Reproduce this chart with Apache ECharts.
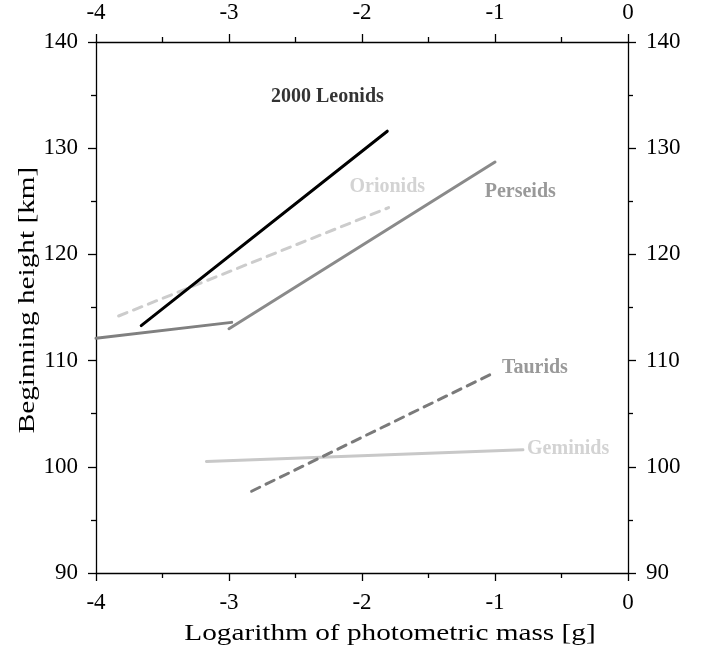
<!DOCTYPE html>
<html lang="en">
<head>
    <meta charset="UTF-8">
    <title>Beginning height vs photometric mass</title>
    <script src="https://cdn.jsdelivr.net/npm/echarts@6/dist/echarts.min.js"></script>
    <style>
        body { margin: 0; background: #fff; }
        #main { width: 706px; height: 648px; }
    </style>
</head>
<body>
<div id="main"></div>
<script>
    // end points: [log mass, height km]
    var leonids = [[-3.66, 113.3], [-1.81, 131.6]];
    var orionids = [[-3.83, 114.2], [-1.80, 124.4]];
    var perseids = [[-3.0, 113.0], [-1.0, 128.7]];
    var perseidsLow = [[-4.0, 112.1], [-2.98, 113.6]];
    var taurids = [[-2.83, 97.7], [-1.0, 108.9]];
    var geminids = [[-3.17, 100.5], [-0.79, 101.6]];

    var labelNames = ['2000 Leonids', 'Orionids', 'Perseids', 'Taurids', 'Geminids'];
    var labelAt = [[-2.26, 134.8], [-1.81, 126.4], [-0.81, 125.9], [-0.70, 109.3], [-0.45, 101.7]];
    var labelColors = ['#000000', '#c8c8c8', '#808080', '#808080', '#c8c8c8'];

    var xTitle = 'Logarithm of photometric mass [g]';
    var yTitle = 'Beginning height [km]';

    var serif = 'Liberation Serif';

    function seg(data, color, dashed) {
        return {
            type: 'line',
            data: data,
            symbol: 'none',
            silent: true,
            lineStyle: {color: color, width: 3, type: dashed ? [9, 7] : 'solid', cap: 'round'}
        };
    }

    var tickStyle = {color: '#000', width: 1.3};

    var xAxisBase = {
        type: 'value',
        min: -4,
        max: 0,
        interval: 1,
        axisLine: {onZero: false, lineStyle: {color: '#000', width: 1.3}},
        axisTick: {inside: false, length: 8, lineStyle: tickStyle},
        minorTick: {show: true, splitNumber: 2, length: 5, lineStyle: tickStyle},
        splitLine: {show: false},
        axisLabel: {color: '#000', fontFamily: serif, fontSize: 23, margin: 18}
    };

    var yAxisBase = {
        type: 'value',
        min: 90,
        max: 140,
        interval: 10,
        axisLine: {onZero: false, lineStyle: {color: '#000', width: 1.3}},
        axisTick: {inside: false, length: 8, lineStyle: tickStyle},
        minorTick: {show: true, splitNumber: 2, length: 5, lineStyle: tickStyle},
        splitLine: {show: false},
        axisLabel: {color: '#000', fontFamily: serif, fontSize: 23, margin: 18}
    };

    var labelData = [];
    for (var i = 0; i < labelNames.length; i++) {
        labelData.push({
            value: labelAt[i],
            label: {
                show: true,
                formatter: labelNames[i],
                position: 'inside',
                color: labelColors[i],
                fontFamily: serif,
                fontWeight: 'bold',
                fontSize: 20
            }
        });
    }

    var myChart = echarts.init(document.getElementById('main'));
    var option = {
        animation: false,
        backgroundColor: '#fff',
        grid: {left: 96, right: 78, top: 42, bottom: 75},
        xAxis: [
            Object.assign({}, xAxisBase, {position: 'bottom'}),
            Object.assign({}, xAxisBase, {position: 'top'})
        ],
        yAxis: [
            Object.assign({}, yAxisBase, {position: 'left'}),
            Object.assign({}, yAxisBase, {position: 'right'})
        ],
        // axis titles, the original type is a little wider than Liberation Serif
        graphic: [
            {
                type: 'text',
                x: 390,
                y: 634,
                scaleX: 1.22,
                style: {text: xTitle, fill: '#000', font: '24px "Liberation Serif"', textAlign: 'center', textVerticalAlign: 'middle'}
            },
            {
                type: 'text',
                x: 28,
                y: 300,
                rotation: Math.PI / 2,
                scaleX: 1.22,
                style: {text: yTitle, fill: '#000', font: '24px "Liberation Serif"', textAlign: 'center', textVerticalAlign: 'middle'}
            }
        ],
        series: [
            seg(perseidsLow, '#808080', false),
            seg(perseids, '#8a8a8a', false),
            seg(orionids, '#cccccc', true),
            seg(geminids, '#c8c8c8', false),
            seg(taurids, '#7a7a7a', true),
            seg(leonids, '#000000', false),
            {
                type: 'scatter',
                symbolSize: 0,
                silent: true,
                data: labelData
            }
        ]
    };
    myChart.setOption(option);
</script>
</body>
</html>
